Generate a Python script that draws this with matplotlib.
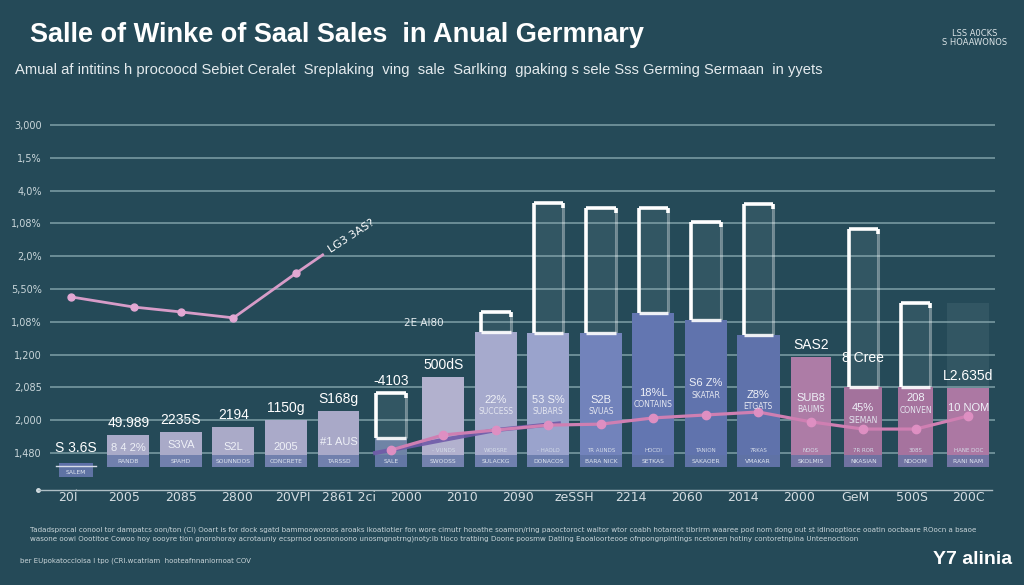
import numpy as np
import matplotlib
matplotlib.use("Agg")
import matplotlib.pyplot as plt

# ---------------- data ----------------
title = "Salle of Winke of Saal Sales  in Anual Germnary"
subtitle = ("Amual af intitins h procoocd Sebiet Ceralet  Sreplaking  ving  sale  Sarlking  "
            "gpaking s sele Sss Germing Sermaan  in yyets")
corner_note = "LSS A0CKS\nS HOAAWONOS"

x_labels = ["20Í", "2005", "2085", "2800", "20VPI", "2861 2ci", "2000", "2010", "2090",
            "zeSSH", "2214", "2060", "2014", "2000", "GeM", "500S", "200C"]
y_ticks = [1000, 2000, 3000, 4000, 5000, 6000, 7000, 8000, 9000, 10000, 11000]
y_labels = ["1,480", "2,000", "2,085", "1,200", "1,08%", "5,50%", "2,0%", "1,08%",
            "4,0%", "1,5%", "3,000"]

bar_values = [700, 1550, 1640, 1800, 2000, 2280, 1460, 3320, 4690, 4660, 4660,
              5270, 5050, 4600, 3930, 3010, 3010, 2980]
bracket_values = [np.nan, np.nan, np.nan, np.nan, np.nan, np.nan, 2830, np.nan, 5300,
                  8620, 8470, 8470, 8040, 8590, np.nan, 7830, 5570, np.nan]
ghost_values = [np.nan, np.nan, np.nan, np.nan, np.nan, np.nan, 2830, np.nan, 5300,
                8620, 8470, 8470, 8040, 8590, np.nan, 7830, 5570, 5570]
band_top = 940

top_labels = ["S 3.6S", "49.989", "2235S", "2194", "1150g", "S168g", "-4103", "500dS",
              "", "", "", "", "", "", "SAS2", "8 Cree", "", "L2.635d"]
inner_labels = ["", "8 4 2%", "S3VA", "S2L", "2005", "#1 AUS", "", "", "22%", "53 S%",
                "S2B", "18%L", "S6 Z%", "Z8%", "SUB8", "45%", "208", "10 NOM"]
inner_sub = ["", "", "", "", "", "", "", "", "SUCCESS", "SUBARS", "SVUAS", "CONTAINS",
             "SKATAR", "ETGATS", "BAUMS", "SIEMAN", "CONVEN", ""]
band_row1 = ["", "", "", "", "", "", "", "- VUNDS", "WORSRE", "- HAOLO", "TR AUNDS", "HOCDI",
             "TANION", "7RKAS", "NOOS", "7R ROR", "308S", "HANE DOC"]
band_row2 = ["SALEM", "RANDB", "SPAHD", "SOUNNDOS", "CONCRETE", "TARSSD", "SALE", "SWOOSS",
             "SULACKG", "DONACOS", "BARA NICK", "SETKAS", "SAKAOER", "VMAKAR", "SKOLMIS",
             "NKASIAN", "NDOOM", "RANI NAM"]

left_line_x = [-0.1, 1.1, 2.0, 3.0, 4.2, 4.7]
left_line_y = [5760, 5450, 5300, 5120, 6490, 7040]
left_line_label = "LG3 3AS?"

trend_x = [6, 7, 8, 9, 10, 11, 12, 13, 14, 15, 16, 17]
trend_y = [1090, 1550, 1700, 1850, 1880, 2070, 2160, 2250, 1950, 1730, 1730, 2130]
purple_x = [5.7, 7, 8, 9.2]
purple_y = [1000, 1400, 1700, 1900]
float_label = "2E Al80"

footer1 = ("Tadadsprocal conool tor dampatcs oon/ton (Cl) Ooart is for dock sgatd bammooworoos "
           "aroaks ikoatiotier fon wore cimutr hooathe soamon/ring paooctoroct waltor wtor coabh "
           "hotaroot tibrirm waaree pod nom dong out st idinooptioce ooatin oocbaare ROocn a bsaoe")
footer2 = ("wasone oowi Oootitoe Cowoo hoy oooyre tion gnorohoray acrotauniy ecsprnod oosnonoono "
           "unosmgnotrng)noty:ib tioco tratbing Doone poosmw Datiing Eaoaloorteooe ofnpongnpintings "
           "ncetonen hotiny contoretnpina Unteenoctioon")
footer3 = "ber EUpokatoccloisa I tpo (CRI.wcatriam  hooteafnnaniornoat COV"
brand = "Y7 alinia"

# ---------------- style ----------------
BG = "#254a58"
BASE = 570
bar_colors = ["#5e70a8", "#a9aac8", "#a9aac8", "#aaaac8", "#aaaac9", "#a9a9c8", "#6f84a6",
              "#b2b1ce", "#a6aacd", "#9aa3cc", "#7283bb", "#6376b1", "#6073ad", "#5f72ab",
              "#ad7ca6", "#a3729c", "#a6739e", "#ac78a3"]
bar_widths = [0.65, 0.8, 0.8, 0.8, 0.8, 0.78, 0.62, 0.8, 0.8, 0.8, 0.8, 0.8, 0.8, 0.82,
              0.76, 0.72, 0.66, 0.8]
band_color = "#5f73a4"
inner_dy = [0, 13, 13, 20, 27, 31, 0, 0, 68, 67, 67, 80, 63, 60, 41, 21, 11, 20]
BW = 0.56  # bracket width

fig = plt.figure(figsize=(10.24, 5.85), dpi=100)
fig.patch.set_facecolor(BG)

L, R, B, T = 50, 995, 490, 115
ax = fig.add_axes([L / 1024, (585 - B) / 585, (R - L) / 1024, (B - T) / 585])
ax.set_facecolor(BG)
ax.set_xlim(-0.4955, 17.51)
ax.set_ylim(1000 - 37 / 0.0328, 1000 + 338 / 0.0328)

xs = np.arange(len(bar_values))
vals = np.array(bar_values, dtype=float)
brk = np.array(bracket_values, dtype=float)
gh = np.array(ghost_values, dtype=float)

ax.set_yticks(y_ticks)
ax.set_yticklabels(y_labels)
ax.grid(axis="y", color="#86a6ad", lw=1.2, alpha=0.85, zorder=0)
ax.tick_params(axis="y", length=0, pad=6, labelsize=7, labelcolor="#c9d6da")
for s in ax.spines.values():
    s.set_visible(False)

# ghost bars
hg = ~np.isnan(gh)
gw = np.where(xs == xs[-1], 0.8, BW)
ax.bar(xs[hg], (gh - vals)[hg], bottom=vals[hg], width=gw[hg],
       facecolor=(0.75, 0.82, 0.86, 0.09), edgecolor="none", zorder=1.5)
# bracket outlines: bright left + top, faint right side
has = ~np.isnan(brk)
xl = xs[has] - BW / 2
xr = xs[has] + BW / 2
ax.vlines(xl, vals[has], brk[has], color="white", lw=2.6, zorder=2.2)
ax.hlines(brk[has], xl, xr, color="white", lw=2.6, zorder=2.2)
ax.vlines(xr, vals[has], brk[has], color=(1, 1, 1, 0.35), lw=2.2, zorder=2.1)
ax.vlines(xr, brk[has] - 160, brk[has], color="white", lw=2.6, zorder=2.2)
ax.hlines(vals[has], xl, xr, color=(1, 1, 1, 0.9), lw=2.4, zorder=3.6)

# main bars
ax.bar(xs, vals - BASE, bottom=BASE, width=bar_widths, color=bar_colors, zorder=3)
# lower bands
ax.bar(xs[1:], band_top - BASE, bottom=BASE, width=np.array(bar_widths[1:]),
       color=band_color, alpha=0.75, zorder=3.5)
ax.bar(xs[:1], BASE - 270, bottom=270, width=bar_widths[0], color=band_color, zorder=3.5,
       clip_on=False)

for i, lab in enumerate(band_row1):
    if lab:
        ax.text(xs[i], (band_top + 1000) / 2 + 120, lab, ha="center", va="center",
                fontsize=4, color="#d4dbe8", zorder=6)
for i, lab in enumerate(band_row2):
    y = (band_top + BASE) / 2 if i else 420
    ax.text(xs[i], y, lab, ha="center", va="center", fontsize=4.3, color="#dfe5ef", zorder=6)

# value labels above
for i, lab in enumerate(top_labels):
    if not lab:
        continue
    anchor = vals[i]
    dy = 5
    if i == 6:
        anchor = brk[i]
    if i == 15:
        dy = 22
    if i == 0:
        dy = 8
    ax.annotate(lab, (xs[i], anchor), xytext=(0, dy), textcoords="offset pixels",
                ha="center", va="bottom", fontsize=10, color="white",
                family="Liberation Sans", zorder=7)
ax.plot([xs[0] - 0.38, xs[0] + 0.38], [BASE + 20, BASE + 20], color="#d8dde8", lw=1,
        zorder=7, clip_on=False)

# inner labels
for i, lab in enumerate(inner_labels):
    if not lab:
        continue
    ax.annotate(lab, (xs[i], vals[i]), xytext=(0, -inner_dy[i]), textcoords="offset pixels",
                ha="center", va="center", fontsize=8, color="#eef0f7",
                family="Liberation Sans", zorder=7)
    if inner_sub[i]:
        ax.annotate(inner_sub[i], (xs[i], vals[i]), xytext=(0, -inner_dy[i] - 12),
                    textcoords="offset pixels", ha="center", va="center", fontsize=5.5,
                    color="#e4e6f0", zorder=7)

# lines
ax.plot(left_line_x, left_line_y, color="#d79cc8", lw=2, zorder=5)
ax.plot(left_line_x[:-1], left_line_y[:-1], "o", ms=5, color="#e3a8d3", zorder=5)
ax.annotate(left_line_label, (left_line_x[-1], left_line_y[-1]), xytext=(4, 0),
            textcoords="offset pixels", rotation=33, ha="left", va="bottom",
            fontsize=8, color="white", zorder=7)

ax.plot(purple_x, purple_y, color="#6f5aa8", lw=3, alpha=0.9, zorder=4.5)
ax.plot(trend_x, trend_y, color="#cf7fb2", lw=2.3, zorder=5)
ax.plot(trend_x, trend_y, "o", ms=6, color="#de8fc2", zorder=5)

ax.text(0.375, 0.444, float_label, transform=ax.transAxes, fontsize=7.5, color="#e6ecef",
        ha="left", va="center")

# x axis
ax.set_xticks(np.linspace(-0.15, 17, len(x_labels)))
ax.set_xticklabels(x_labels)
ax.tick_params(axis="x", length=0, pad=1, labelsize=9, labelcolor="#d4dde2")
ax.plot([-0.013, 0.997], [0, 0], transform=ax.transAxes, color="#aebfc5", lw=1,
        clip_on=False, zorder=6)
ax.plot([-0.013], [0], "o", ms=2.5, transform=ax.transAxes, color="#d6e0e4", clip_on=False)

# titles and footer
fig.text(30 / 1024, 1 - 35 / 585, title, fontsize=19.5, fontweight="bold", color="white",
         family="Liberation Sans", va="center", ha="left")
fig.text(15 / 1024, 1 - 70 / 585, subtitle, fontsize=10.6, color="#e4ebee",
         family="Liberation Sans", va="center", ha="left")
fig.text(975 / 1024, 1 - 38 / 585, corner_note, fontsize=6, color="#dbe4e7", ha="center",
         va="center", linespacing=1.0)
fig.text(30 / 1024, 1 - 530 / 585, footer1, fontsize=5.1, color="#c9d5d9", ha="left",
         va="center")
fig.text(30 / 1024, 1 - 539 / 585, footer2, fontsize=5.1, color="#c9d5d9", ha="left",
         va="center")
fig.text(20 / 1024, 1 - 561 / 585, footer3, fontsize=5, color="#c9d5d9", ha="left",
         va="center")
fig.text(1012 / 1024, 1 - 560 / 585, brand, fontsize=14, fontweight="bold", color="white",
         ha="right", va="center", family="Liberation Sans")

fig.savefig("out.png", dpi=100, facecolor=BG)
